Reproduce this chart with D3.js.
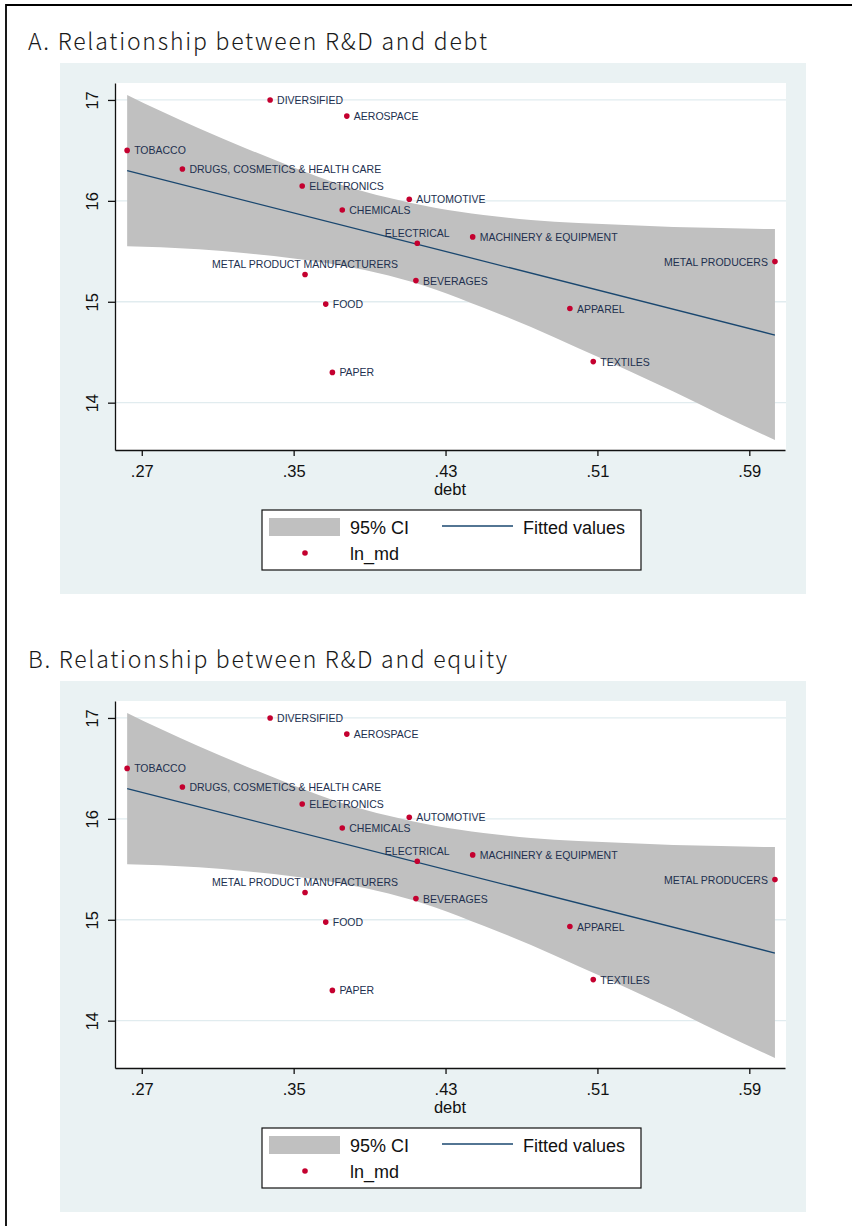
<!DOCTYPE html>
<html>
<head>
<meta charset="utf-8">
<script src="https://cdn.jsdelivr.net/npm/d3@7"></script>
<style>
  body { margin: 0; background: #fff; }
  text { font-family: "Liberation Sans", Arial, sans-serif; }
</style>
</head>
<body>
<div class="chart"></div>
<script>
// industry data (ln of R&D vs debt ratio)
var sectors = ["DIVERSIFIED", "AEROSPACE", "TOBACCO", "DRUGS, COSMETICS & HEALTH CARE", "ELECTRONICS",
  "AUTOMOTIVE", "CHEMICALS", "ELECTRICAL", "MACHINERY & EQUIPMENT", "METAL PRODUCERS",
  "METAL PRODUCT MANUFACTURERS", "BEVERAGES", "FOOD", "APPAREL", "TEXTILES", "PAPER"];
var debt = [.3376, .378, .2623, .2914, .3545, .4109, .3756, .4151, .4443, .6035,
  .356, .4144, .3669, .4955, .5078, .3704];
var lnRd = [17.00, 16.84, 16.50, 16.315, 16.148, 16.016, 15.91, 15.58, 15.643, 15.398,
  15.27, 15.21, 14.977, 14.933, 14.407, 14.30];

// 95% CI band and fitted line
var ciDebt = [.2623, .28, .30, .325, .35, .375, .40, .425, .45, .475, .50, .525, .55, .575, .6035];
var ciUpper = [17.05, 16.89, 16.72, 16.52, 16.33, 16.16, 16.03, 15.93, 15.86, 15.81, 15.78, 15.76, 15.74, 15.73, 15.72];
var ciLower = [15.55, 15.54, 15.52, 15.48, 15.43, 15.36, 15.26, 15.12, 14.94, 14.75, 14.54, 14.33, 14.11, 13.88, 13.63];
var fitDebt = [.2623, .6035];
var fitValues = [16.30, 14.67];

var xTicks = [.27, .35, .43, .51, .59];
var yTicks = [14, 15, 16, 17];
var panelTitles = ["A. Relationship between R&D and debt", "B. Relationship between R&D and equity"];
var titleWidths = [459, 479];
var xLabel = "debt";
var legendLabels = ["95% CI", "Fitted values", "ln_md"];

// where a marker label sits, if not to the right
var labelSide = { "ELECTRICAL": "above", "METAL PRODUCT MANUFACTURERS": "above", "METAL PRODUCERS": "left" };

var svgWidth = 852, svgHeight = 1226;
var panelShift = 618;
var bgColor = "#eaf2f3", ciColor = "#c0c0c0", fitColor = "#1a476f", dotColor = "#c4002f";

var svg = d3.select(".chart").append("svg")
  .attr("width", svgWidth)
  .attr("height", svgHeight);

// outer frame (left and top only)
svg.append("path")
  .attr("d", "M6,1226V5H852")
  .attr("fill", "none")
  .attr("stroke", "#000")
  .attr("stroke-width", 1.8);

var plot = { left: 115, right: 786, top: 83, bottom: 450 };

var x = d3.scaleLinear().domain([.2559, .6088]).range([plot.left, 785]);
var y = d3.scaleLinear().domain([13.531, 17.168]).range([plot.bottom, plot.top]);

var points = sectors.map(function (s, i) { return { name: s, debt: debt[i], rd: lnRd[i] }; });
var band = ciDebt.map(function (d, i) { return { debt: d, hi: ciUpper[i], lo: ciLower[i] }; });
var fit = fitDebt.map(function (d, i) { return { debt: d, v: fitValues[i] }; });

function drawPanel(k) {
  var g = svg.append("g").attr("transform", "translate(0," + (k * panelShift) + ")");

  g.append("text")
    .attr("x", 28).attr("y", 50)
    .attr("textLength", titleWidths[k])
    .attr("lengthAdjust", "spacing")
    .style("font-family", "'Noto Sans CJK KR', 'Noto Sans', sans-serif")
    .style("font-size", "23px")
    .style("font-weight", 300)
    .attr("fill", "#1a1a1a")
    .text(panelTitles[k]);

  // graph region + plot region
  g.append("rect").attr("x", 60).attr("y", 63).attr("width", 746).attr("height", 531).attr("fill", bgColor);
  g.append("rect").attr("x", plot.left).attr("y", plot.top)
    .attr("width", plot.right - plot.left).attr("height", plot.bottom - plot.top).attr("fill", "#fff");

  // gridlines
  g.selectAll(".grid").data(yTicks).enter().append("line")
    .attr("x1", plot.left).attr("x2", plot.right)
    .attr("y1", d => y(d)).attr("y2", d => y(d))
    .attr("stroke", "#e1ecef").attr("stroke-width", 1.3);

  // CI band
  var area = d3.area()
    .x(d => x(d.debt))
    .y0(d => y(d.lo))
    .y1(d => y(d.hi))
    .curve(d3.curveMonotoneX);
  g.append("path").datum(band).attr("d", area).attr("fill", ciColor);

  // fitted line
  var line = d3.line().x(d => x(d.debt)).y(d => y(d.v));
  g.append("path").datum(fit).attr("d", line)
    .attr("fill", "none").attr("stroke", fitColor).attr("stroke-width", 1.3);

  // axes
  var bottomAxis = d3.axisBottom(x).tickValues(xTicks)
    .tickFormat(d => d3.format(".2f")(d).replace(/^0/, ""))
    .tickSize(6).tickSizeOuter(0).tickPadding(9);
  var ax = g.append("g").attr("transform", "translate(0," + plot.bottom + ")").call(bottomAxis);
  ax.selectAll("text").style("font-size", "16.5px").attr("fill", "#111");
  ax.selectAll("line, path").attr("stroke", "#111").attr("stroke-width", 1.3);

  var leftAxis = d3.axisLeft(y).tickValues(yTicks).tickFormat(d3.format("d")).tickSize(7).tickSizeOuter(0);
  var ay = g.append("g").attr("transform", "translate(" + plot.left + ",0)").call(leftAxis);
  ay.selectAll("text")
    .attr("x", null).attr("dy", null)
    .attr("transform", "translate(-23,0) rotate(-90)")
    .attr("text-anchor", "middle")
    .attr("dominant-baseline", "central")
    .style("font-size", "16.5px").attr("fill", "#111");
  ay.selectAll("line, path").attr("stroke", "#111").attr("stroke-width", 1.3);

  g.append("text")
    .attr("x", (plot.left + 785) / 2).attr("y", 495)
    .attr("text-anchor", "middle")
    .style("font-size", "16.5px").attr("fill", "#111")
    .text(xLabel);

  // markers + labels
  g.selectAll(".dot").data(points).enter().append("circle")
    .attr("cx", d => x(d.debt)).attr("cy", d => y(d.rd))
    .attr("r", 2.8).attr("fill", dotColor);

  g.selectAll(".lab").data(points).enter().append("text")
    .attr("x", function (d) {
      var side = labelSide[d.name];
      if (side === "above") return x(d.debt);
      if (side === "left") return x(d.debt) - 7;
      return x(d.debt) + 7;
    })
    .attr("y", d => y(d.rd) - (labelSide[d.name] === "above" ? 10.5 : 0))
    .attr("text-anchor", function (d) {
      var side = labelSide[d.name];
      return side === "above" ? "middle" : side === "left" ? "end" : "start";
    })
    .attr("dominant-baseline", "central")
    .style("font-size", "10.5px")
    .attr("fill", "#22304f")
    .text(d => d.name);

  // legend
  var lg = g.append("g");
  lg.append("rect").attr("x", 262).attr("y", 510).attr("width", 379).attr("height", 60)
    .attr("fill", "#fff").attr("stroke", "#111").attr("stroke-width", 1.2);
  lg.append("rect").attr("x", 269).attr("y", 518).attr("width", 71).attr("height", 18).attr("fill", ciColor);
  lg.append("text").attr("x", 350).attr("y", 534).style("font-size", "18px").attr("fill", "#111").text(legendLabels[0]);
  lg.append("line").attr("x1", 442).attr("x2", 513).attr("y1", 526).attr("y2", 526)
    .attr("stroke", fitColor).attr("stroke-width", 1.5);
  lg.append("text").attr("x", 523).attr("y", 534).style("font-size", "18px").attr("fill", "#111").text(legendLabels[1]);
  lg.append("circle").attr("cx", 305).attr("cy", 553).attr("r", 2.8).attr("fill", dotColor);
  lg.append("text").attr("x", 350).attr("y", 560).style("font-size", "18px").attr("fill", "#111").text(legendLabels[2]);
}

panelTitles.forEach(function (t, k) { drawPanel(k); });
</script>
</body>
</html>
